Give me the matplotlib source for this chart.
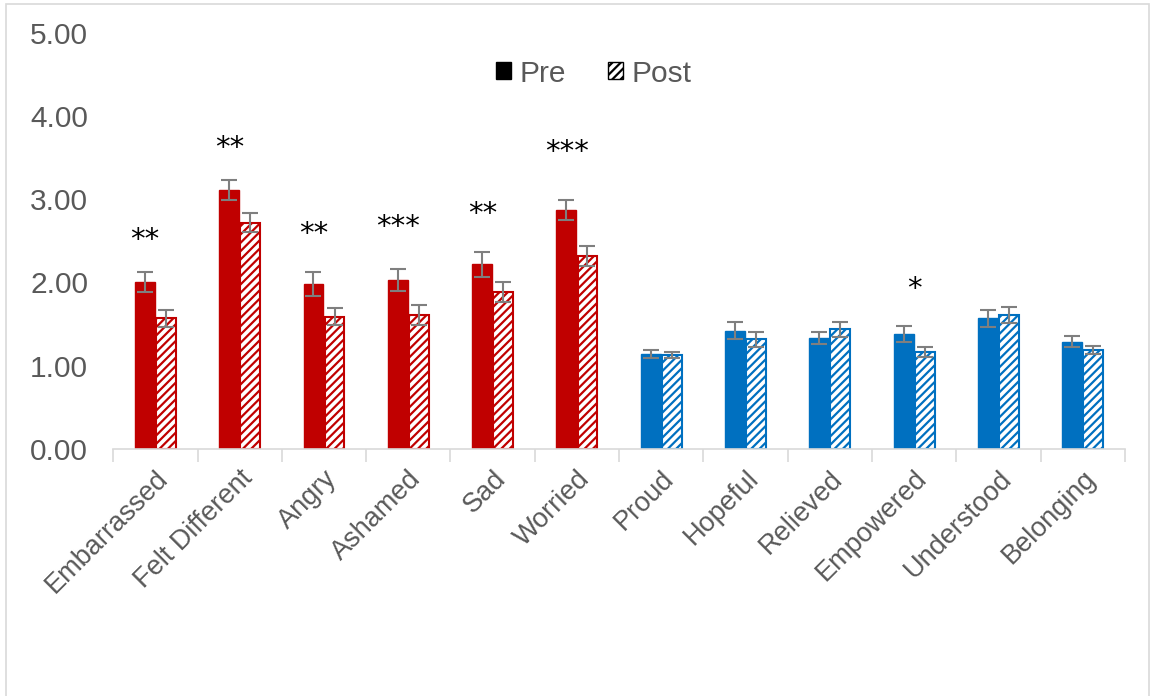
import numpy as np
import matplotlib
matplotlib.use("Agg")
import matplotlib.pyplot as plt
from matplotlib.patches import Patch, Rectangle

plt.rcParams['font.family'] = ['Liberation Sans', 'DejaVu Sans']
plt.rcParams['hatch.linewidth'] = 1.6

categories = ['Embarrassed', 'Felt Different', 'Angry', 'Ashamed', 'Sad', 'Worried',
              'Proud', 'Hopeful', 'Relieved', 'Empowered', 'Understood', 'Belonging']
pre = [2.01, 3.11, 1.98, 2.03, 2.22, 2.87, 1.14, 1.42, 1.33, 1.38, 1.57, 1.29]
post = [1.57, 2.72, 1.59, 1.61, 1.89, 2.32, 1.13, 1.32, 1.44, 1.16, 1.61, 1.19]
pre_err = [0.12, 0.12, 0.14, 0.13, 0.15, 0.12, 0.05, 0.10, 0.07, 0.10, 0.10, 0.07]
post_err = [0.10, 0.12, 0.10, 0.12, 0.12, 0.12, 0.04, 0.09, 0.09, 0.06, 0.10, 0.05]
stars = ['**', '**', '**', '***', '**', '***', '', '', '', '*', '', '']
star_y = [2.51, 3.62, 2.58, 2.66, 2.82, 3.57, 0, 0, 0, 1.92, 0, 0]
negative = [True] * 6 + [False] * 6

red = '#C00000'
blue = '#0070C0'
grey = '#7F7F7F'

fig = plt.figure(figsize=(11.55, 6.96), dpi=100)
fig.patches.append(Rectangle((0.005, -0.01), 0.99, 1.004, transform=fig.transFigure,
                             fill=False, edgecolor='#D9D9D9', linewidth=1.2))
ax = fig.add_axes([0.098, 0.355, 0.876, 0.598])

x = np.arange(len(categories))
w = 0.235
colors = [red if n else blue for n in negative]

ax.bar(x - 0.125, pre, w, color=colors, edgecolor=colors, linewidth=1)
ax.bar(x + 0.125, post, w, color='white', edgecolor=colors, hatch='////', linewidth=1.5)
ax.errorbar(x - 0.125, pre, yerr=pre_err, fmt='none', ecolor=grey, capsize=6, elinewidth=1.5, capthick=1.5)
ax.errorbar(x + 0.125, post, yerr=post_err, fmt='none', ecolor=grey, capsize=6, elinewidth=1.5, capthick=1.5)

for i, s in enumerate(stars):
    if s:
        dx = 0.0 if len(s) == 1 else -0.12
        ax.text(x[i] + dx, star_y[i], s, ha='center', va='center',
                fontsize=21, color='black', family='DejaVu Sans')

ax.set_xlim(-0.5, len(categories) - 0.5)
ax.set_ylim(0, 5)
ax.set_yticks(np.arange(0, 5.01, 1))
ax.set_yticklabels([f'{v:.2f}' for v in np.arange(0, 5.01, 1)])
ax.tick_params(axis='y', length=0, labelsize=21.5, labelcolor='#595959', pad=18)

ax.set_xticks(x)
ax.set_xticklabels(categories, rotation=45, ha='right', rotation_mode='anchor')
ax.tick_params(axis='x', which='major', length=0, labelsize=19.5, labelcolor='#595959', pad=12)
ax.set_xticks(np.arange(-0.5, len(categories), 1), minor=True)
ax.tick_params(axis='x', which='minor', length=9, color='#D9D9D9', width=1.2)

for side in ['top', 'right', 'left']:
    ax.spines[side].set_visible(False)
ax.spines['bottom'].set_color('#D9D9D9')
ax.spines['bottom'].set_linewidth(1.2)

handles = [Patch(facecolor='black', edgecolor='black'),
           Patch(facecolor='white', edgecolor='black', hatch='////')]
ax.legend(handles, ['Pre', 'Post'], loc='upper center', bbox_to_anchor=(0.475, 1.0), ncol=2,
          frameon=False, fontsize=21.5, labelcolor='#595959', handlelength=0.5, handleheight=0.5,
          handletextpad=0.3, columnspacing=1.4)

fig.savefig('out.png', dpi=100)
